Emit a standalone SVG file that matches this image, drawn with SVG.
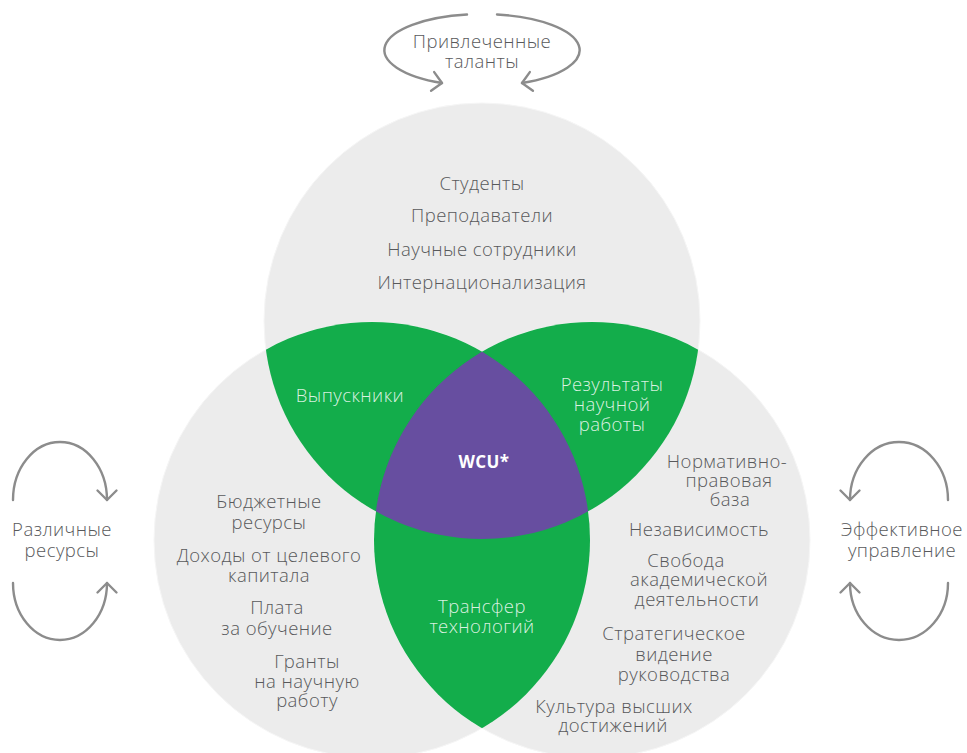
<svg xmlns="http://www.w3.org/2000/svg" width="967" height="753" viewBox="0 0 967 753">
<style>
text{font-family:"Open Sans","Noto Sans","Liberation Sans",sans-serif;font-weight:300;font-size:18.5px;letter-spacing:0.45px;fill:#58595b;text-anchor:middle}
.w{fill:#ffffff;fill-opacity:0.85}
.b{font-weight:700;font-size:17px;fill:#ffffff;fill-opacity:1}
.bg{fill:#ececec;stroke:#f6f6f6;stroke-width:1}
.g{fill:#13ad4b}
.p{fill:#674ea0}
.arc{fill:none;stroke:#8c8c8c;stroke-width:2.4;stroke-linecap:round}
</style>
<defs>
<clipPath id="cT"><circle cx="482" cy="321" r="218"/></clipPath>
<clipPath id="cL"><circle cx="372" cy="540" r="218"/></clipPath>
<marker id="ah" markerUnits="userSpaceOnUse" markerWidth="24" markerHeight="24" refX="12" refY="12" orient="auto" viewBox="0 0 24 24">
<path d="M2.5,2.5 L12,12 L2.5,21.5" fill="none" stroke="#8c8c8c" stroke-width="2.4" stroke-linecap="round" stroke-linejoin="round"/>
</marker>
</defs>
<rect width="967" height="753" fill="#ffffff"/>
<g id="circle-top"><circle class="bg" cx="482" cy="321" r="218"/></g>
<g id="circle-left"><circle class="bg" cx="372" cy="540" r="218"/></g>
<g id="circle-right"><circle class="bg" cx="592" cy="540" r="218"/></g>
<g id="lens-graduates"><circle class="g" cx="372" cy="540" r="218" clip-path="url(#cT)"/></g>
<g id="lens-research"><circle class="g" cx="592" cy="540" r="218" clip-path="url(#cT)"/></g>
<g id="lens-transfer"><circle class="g" cx="592" cy="540" r="218" clip-path="url(#cL)"/></g>
<g id="wcu"><g clip-path="url(#cT)"><circle class="p" cx="592" cy="540" r="218" clip-path="url(#cL)"/></g>
<text class="b" x="484" y="468">WCU*</text></g>
<g id="top-texts">
<text x="482" y="190">Студенты</text>
<text x="482" y="222">Преподаватели</text>
<text x="482" y="256">Научные сотрудники</text>
<text x="482" y="289">Интернационализация</text>
</g>
<g id="graduates-label"><text class="w" x="350" y="402">Выпускники</text></g>
<g id="research-label"><text class="w" x="612" y="391">Результаты</text><text class="w" x="612" y="411">научной</text><text class="w" x="612" y="431">работы</text></g>
<g id="transfer-label"><text class="w" x="482" y="613">Трансфер</text><text class="w" x="482" y="633">технологий</text></g>
<g id="left-texts">
<text x="269" y="508">Бюджетные</text><text x="269" y="529">ресурсы</text>
<text x="269" y="562">Доходы от целевого</text><text x="269" y="582">капитала</text>
<text x="277" y="614">Плата</text><text x="277" y="635">за обучение</text>
<text x="307" y="668">Гранты</text><text x="307" y="688">на научную</text><text x="307" y="707">работу</text>
</g>
<g id="right-texts">
<text x="727" y="468">Нормативно-</text><text x="729" y="487">правовая</text><text x="730" y="506">база</text>
<text x="699" y="536">Независимость</text>
<text x="686" y="567">Свобода</text><text x="699" y="586">академической</text><text x="697" y="606">деятельности</text>
<text x="674" y="640">Стратегическое</text><text x="674" y="661">видение</text><text x="674" y="681">руководства</text>
<text x="614" y="713">Культура высших</text><text x="613" y="732">достижений</text>
</g>
<g id="talents"><text x="482" y="48">Привлеченные</text><text x="482" y="68">таланты</text></g>
<g id="resources"><text x="62" y="536">Различные</text><text x="62" y="557">ресурсы</text></g>
<g id="governance"><text x="902" y="536">Эффективное</text><text x="902" y="557">управление</text></g>
<g id="connectors">
<path class="arc" d="M467,14.5 A97,36 0 0 0 442,83" marker-end="url(#ah)"/>
<path class="arc" d="M497,14.5 A97,36 0 0 1 522,83" marker-end="url(#ah)"/>
<path class="arc" d="M13,500 A47,58 0 0 1 107,500" marker-end="url(#ah)"/>
<path class="arc" d="M13,583 A47,57 0 0 0 107,583" marker-end="url(#ah)"/>
<path class="arc" d="M948,500 A49,58 0 0 0 850,500" marker-end="url(#ah)"/>
<path class="arc" d="M948,583 A49,57 0 0 1 850,583" marker-end="url(#ah)"/>
</g>
</svg>
